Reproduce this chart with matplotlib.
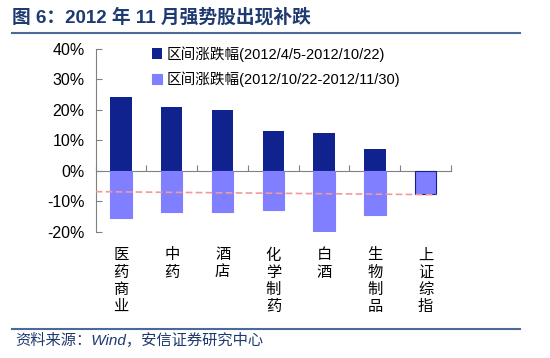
import numpy as np
import matplotlib.pyplot as plt
import matplotlib.transforms as mtransforms
from matplotlib.lines import Line2D

plt.rcParams['font.family'] = ['Liberation Sans', 'Noto Sans CJK SC', 'DejaVu Sans']

categories = ['医药商业', '中药', '酒店', '化学制药', '白酒', '生物制品', '上证综指']
first_period = [24.2, 20.8, 20.0, 13.0, 12.3, 7.3, -0.2]
second_period = [-15.4, -13.4, -13.6, -12.7, -20.5, -14.4, -7.5]
series_names = ['区间涨跌幅(2012/4/5-2012/10/22)', '区间涨跌幅(2012/10/22-2012/11/30)']
index_line = [-6.8, -7.8]   # dashed reference line, left end / right end
yticks = [-20, -10, 0, 10, 20, 30, 40]

dark = '#10228e'
light = '#7f7fff'
text_blue = '#1f3a70'

fig = plt.figure(figsize=(5.5, 3.58), dpi=100)
ax = fig.add_axes([0.174, 0.352, 0.646, 0.512])

x = np.arange(len(categories))
w = 0.42
ax.bar(x, first_period, width=w, color=dark, label=series_names[0], zorder=3)
edges = [light] * (len(categories) - 1) + [dark]
ax.bar(x, second_period, width=w, color=light, edgecolor=edges, linewidth=0.8,
       label=series_names[1], zorder=3)

ax.plot([-0.5, x[-1] + w / 2], index_line, ls=(0, (4, 2)), color='#f09a9a', lw=1.2, zorder=4)

ax.set_xlim(-0.5, len(categories) - 0.5)
ax.set_ylim(-20, 40)
ax.set_yticks(yticks)
ax.set_yticklabels([f'{v}%' for v in yticks], fontsize=11.5)
ax.tick_params(axis='y', direction='in', length=4, color='#808080', pad=8)
ax.set_xticks(np.arange(len(categories) + 1) - 0.5)
ax.set_xticklabels([])
ax.tick_params(axis='x', direction='in', length=4, color='#808080')

for s in ['top', 'right']:
    ax.spines[s].set_visible(False)
ax.spines['bottom'].set_position(('data', 0))
ax.spines['left'].set_color('#808080')
ax.spines['bottom'].set_color('#808080')

trans = mtransforms.blended_transform_factory(ax.transData, ax.transAxes)
for xi, lab in zip(x, categories):
    ax.text(xi, -0.09, '\n'.join(lab), transform=trans, ha='center', va='top',
            fontsize=11, linespacing=1.28)

ax.legend(loc='upper left', bbox_to_anchor=(0.265, 0.888), bbox_transform=fig.transFigure,
          frameon=False, fontsize=10.5, handlelength=0.7, handleheight=0.7,
          handletextpad=0.3, labelspacing=0.7, borderaxespad=0)

fig.text(0.022, 0.953, '图 6：2012 年 11 月强势股出现补跌', fontsize=13.5, fontweight='bold',
         color=text_blue, va='center')
fig.add_artist(Line2D([0.022, 0.945], [0.908, 0.908], color='#4a6a9a', lw=1.5))
fig.add_artist(Line2D([0.022, 0.945], [0.082, 0.082], color='#4a6a9a', lw=1.5))
fig.text(0.027, 0.05, '资料来源：Wind，安信证券研究中心', fontsize=11, style='italic',
         color=text_blue, va='center')

fig.savefig('out.png', dpi=100)
